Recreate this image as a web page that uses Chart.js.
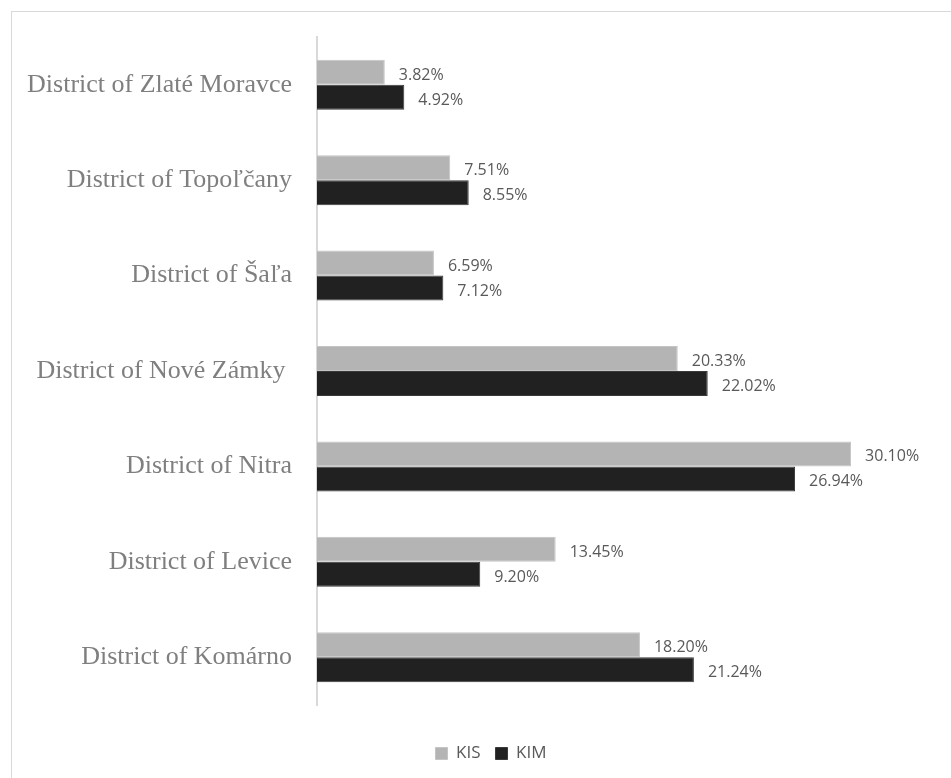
<!DOCTYPE html>
<html>
<head>
<meta charset="utf-8">
<script src="https://cdn.jsdelivr.net/npm/chart.js@4.4.1/dist/chart.umd.min.js"></script>
<style>
    html, body { margin: 0; padding: 0; background: #fff; overflow: hidden; }
    #frame {
        position: absolute;
        left: 11px;
        top: 11px;
        width: 960px;
        height: 790px;
        border: 1px solid #d9d9d9;
        box-sizing: border-box;
    }
</style>
</head>
<body>
<div id="frame"><canvas id="districtChart"></canvas></div>
<script>
// data
const districts = [
    'District of Zlaté Moravce',
    'District of Topoľčany',
    'District of Šaľa',
    'District of Nové Zámky ',
    'District of Nitra',
    'District of Levice',
    'District of Komárno'
];
const kisValues = [3.82, 7.51, 6.59, 20.33, 30.10, 13.45, 18.20];
const kimValues = [4.92, 8.55, 7.12, 22.02, 26.94, 9.20, 21.24];
const seriesNames = ['KIS', 'KIM'];

// label nilai di ujung bar
const valueLabels = {
    id: 'valueLabels',
    afterDatasetsDraw(chart) {
        const ctx = chart.ctx;
        ctx.save();
        ctx.font = '16px "Open Sans"';
        ctx.fillStyle = '#595959';
        ctx.textAlign = 'left';
        ctx.textBaseline = 'middle';
        chart.data.datasets.forEach((ds, i) => {
            const meta = chart.getDatasetMeta(i);
            meta.data.forEach((bar, j) => {
                ctx.fillText(ds.data[j].toFixed(2) + '%', bar.x + 14, bar.y + 3);
            });
        });
        ctx.restore();
    }
};

const chartEl = document.getElementById('districtChart');

new Chart(chartEl, {
    type: 'bar',
    data: {
        labels: districts,
        datasets: [{
            label: seriesNames[0],
            data: kisValues,
            backgroundColor: '#b4b4b4',
            borderColor: '#c4c4c4',
            borderWidth: 1,
            categoryPercentage: 0.524,
            barPercentage: 1
        }, {
            label: seriesNames[1],
            data: kimValues,
            backgroundColor: '#212121',
            borderColor: '#3a3a3a',
            borderWidth: 1,
            categoryPercentage: 0.524,
            barPercentage: 1
        }]
    },
    options: {
        indexAxis: 'y',
        responsive: true,
        maintainAspectRatio: false,
        animation: false,
        layout: {
            padding: { top: 25, right: 0, left: 0, bottom: 28 }
        },
        scales: {
            x: {
                display: true,
                min: 0,
                max: 36.8,
                grid: { display: false },
                border: { display: false },
                ticks: { display: false },
                afterFit: function(scale) {
                    // ruang kosong antara plot dan legend
                    scale.height = 25;
                }
            },
            y: {
                grid: { display: false, drawTicks: false },
                border: { display: true, color: '#d9d9d9', width: 2 },
                ticks: {
                    color: '#7f7f7f',
                    font: { family: '"Liberation Serif"', size: 26 },
                    padding: 25
                },
                afterFit: function(scale) {
                    scale.width = 305;
                    scale.paddingTop = 0;
                    scale.paddingBottom = 0;
                }
            }
        },
        plugins: {
            legend: {
                position: 'bottom',
                labels: {
                    color: '#595959',
                    font: { family: '"Open Sans"', size: 17 },
                    boxWidth: 12,
                    boxHeight: 12,
                    padding: 15
                }
            },
            tooltip: { enabled: false }
        }
    },
    plugins: [valueLabels]
});
</script>
</body>
</html>
